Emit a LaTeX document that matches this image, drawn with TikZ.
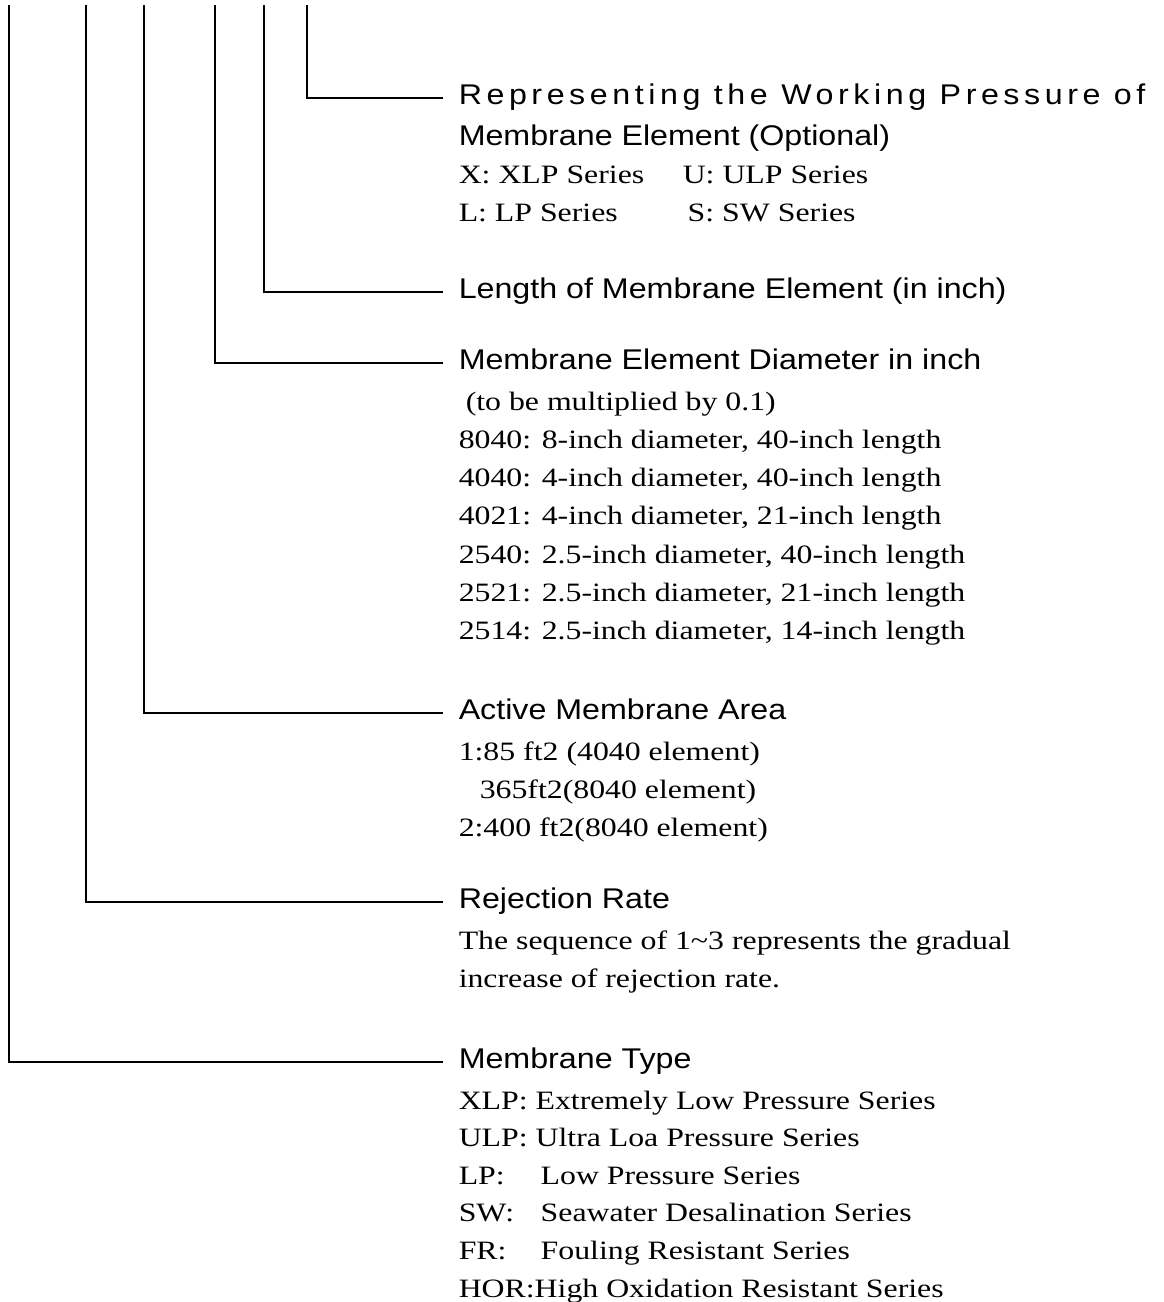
\documentclass[tikz,border=0pt]{standalone}
\usepackage{fontspec}
\setmainfont{Liberation Serif}[FakeStretch=1.2]
\setsansfont{Liberation Sans}[FakeStretch=1.13]
\usetikzlibrary{positioning}

\newcommand{\headsize}{\fontsize{28.5}{38.3}\selectfont}
\newcommand{\bodysize}{\fontsize{26.5}{38.3}\selectfont}
\newcommand{\firstline}{\rule{0pt}{25pt}}

\begin{document}
\begin{tikzpicture}
	[
		x=1pt, y=1pt, line width=1.5pt,
		heading/.style = {anchor=west, inner xsep=15pt, inner ysep=0pt, text height=20pt, text depth=8pt, font=\sffamily\headsize},
		detail/.style = {below=15.3pt of #1.base west, anchor=north west, inner xsep=15pt, inner ysep=0pt, align=left, font=\bodysize},
	]
  \useasboundingbox (0,0) rectangle (1164,-1302);

  % tops of the code lines
  \coordinate (typetop) at (9,-5);
  \coordinate (rejecttop) at (86,-5);
  \coordinate (areatop) at (144,-5);
  \coordinate (diamtop) at (215,-5);
  \coordinate (lentop) at (264,-5);
  \coordinate (presstop) at (307,-5);

  \node[heading] (press) at (443,-98) {\addfontfeatures{LetterSpace=16}Representing the Working Pressure of};
  \node[detail=press] (pressd) {\firstline{\sffamily\headsize Membrane Element (Optional)}\\
  	\makebox[224pt][l]{X: XLP Series}U: ULP Series\\
  	\makebox[229pt][l]{L: LP Series}S: SW Series};

  \node[heading] (len) at (443,-292) {Length of Membrane Element (in inch)};

  \node[heading] (diam) at (443,-363) {Membrane Element Diameter in inch};
  \node[detail=diam] (diamd) {\firstline\hspace*{7pt}(to be multiplied by 0.1)\\
  	8040: 8-inch diameter, 40-inch length\\
  	4040: 4-inch diameter, 40-inch length\\
  	4021: 4-inch diameter, 21-inch length\\
  	2540: 2.5-inch diameter, 40-inch length\\
  	2521: 2.5-inch diameter, 21-inch length\\
  	2514: 2.5-inch diameter, 14-inch length};

  \node[heading] (area) at (443,-713) {Active Membrane Area};
  \node[detail=area] (aread) {\firstline 1:85 ft2 (4040 element)\\
  	\hspace*{21pt}365ft2(8040 element)\\
  	2:400 ft2(8040 element)};

  \node[heading] (reject) at (443,-902) {Rejection Rate};
  \node[detail=reject] (rejectd) {\firstline The sequence of 1\textasciitilde3 represents the gradual\\
  	increase of rejection rate.};

  \node[heading] (type) at (443,-1062) {Membrane Type};
  \node[detail=type, font=\fontsize{26.5}{37.6}\selectfont] (typed) {\firstline XLP: Extremely Low Pressure Series\\
  	ULP: Ultra Loa Pressure Series\\
  	\makebox[82pt][l]{LP:}Low Pressure Series\\
  	\makebox[82pt][l]{SW:}Seawater Desalination Series\\
  	\makebox[82pt][l]{FR:}Fouling Resistant Series\\
  	HOR:High Oxidation Resistant Series};

  \draw (presstop) |- (press);
  \draw (lentop) |- (len);
  \draw (diamtop) |- (diam);
  \draw (areatop) |- (area);
  \draw (rejecttop) |- (reject);
  \draw (typetop) |- (type);

\end{tikzpicture}
\end{document}
